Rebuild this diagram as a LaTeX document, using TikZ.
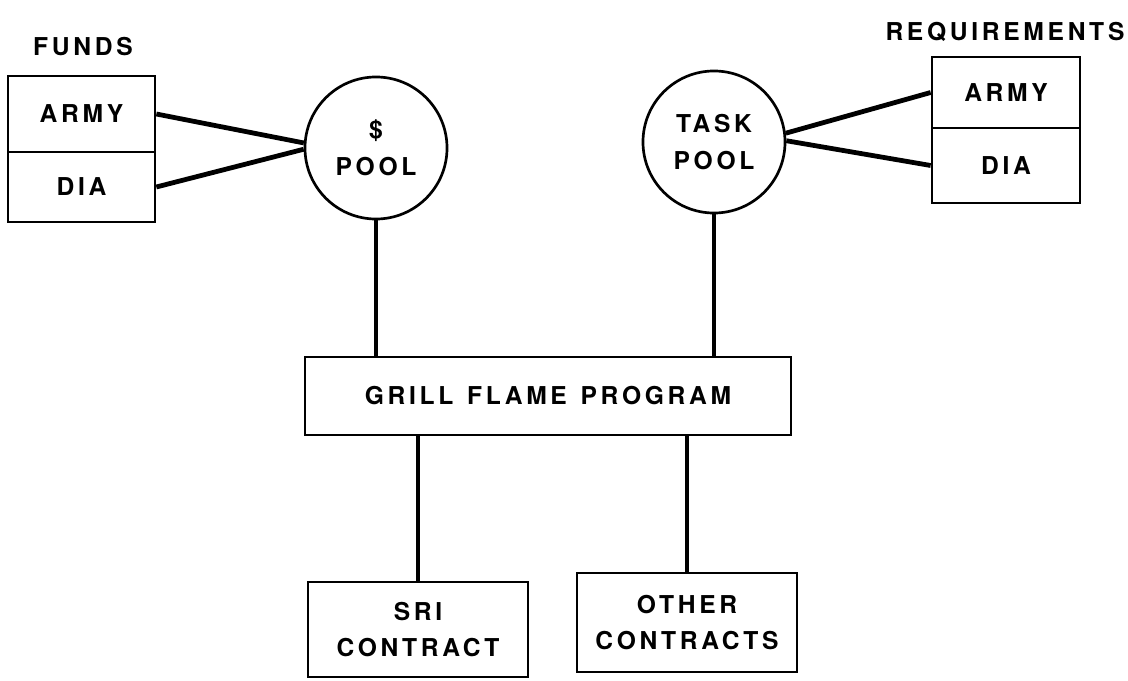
\documentclass[tikz,border=0pt]{standalone}
\usepackage{fontspec}
\setmainfont{TeX Gyre Heros}[LetterSpace=15,WordSpace=1.3]
\usepackage{tikz}
\usetikzlibrary{calc}

\begin{document}
\begin{tikzpicture}[x=0.025cm,y=-0.025cm,
  box/.style={draw,line width=1.9pt,rectangle,inner sep=0pt,align=center},
  pool/.style={draw,line width=1.9pt,circle,minimum size=3.55cm,inner sep=0pt,align=center},
  link/.style={line width=3.4pt}]
  \useasboundingbox (0,0) rectangle (1128,681);
  \fontsize{17.5}{26}\selectfont\bfseries
  % funds side
  \node (fundslabel) at (83,47) {FUNDS};
  \node[box,minimum width=3.675cm,minimum height=1.9cm] (fundsarmy) at (81.5,114) {ARMY};
  \node[box,minimum width=3.675cm,minimum height=1.75cm] (fundsdia) at (81.5,187) {DIA};
  \node[pool] (dollarpool) at (376,148) {\$\\POOL};
  % requirements side
  \node (reqlabel) at (1005,32) {REQUIREMENTS};
  \node[box,minimum width=3.7cm,minimum height=1.775cm] (reqarmy) at (1006,92.5) {ARMY};
  \node[box,minimum width=3.7cm,minimum height=1.875cm] (reqdia) at (1006,165.5) {DIA};
  \node[pool] (taskpool) at (714,142) {TASK\\POOL};
  % program and contracts
  \node[box,minimum width=12.15cm,minimum height=1.95cm] (grill) at (548,396) {GRILL FLAME PROGRAM};
  \node[box,minimum width=5.5cm,minimum height=2.375cm] (sri) at (418,629.5) {SRI\\CONTRACT};
  \node[box,minimum width=5.5cm,minimum height=2.475cm] (other) at (687,622.5) {OTHER\\CONTRACTS};
  % connectors
  \draw[link] (fundsarmy.east) -- (dollarpool.176);
  \draw[link] (fundsdia.east) -- (dollarpool.181);
  \draw[link] (reqarmy.west) -- (taskpool.7);
  \draw[link] (reqdia.west) -- (taskpool.1);
  \draw[link] (dollarpool.south) -- (dollarpool.south |- grill.north);
  \draw[link] (taskpool.south) -- (taskpool.south |- grill.north);
  \draw[link] (sri.north |- grill.south) -- (sri.north);
  \draw[link] (other.north |- grill.south) -- (other.north);
\end{tikzpicture}
\end{document}
